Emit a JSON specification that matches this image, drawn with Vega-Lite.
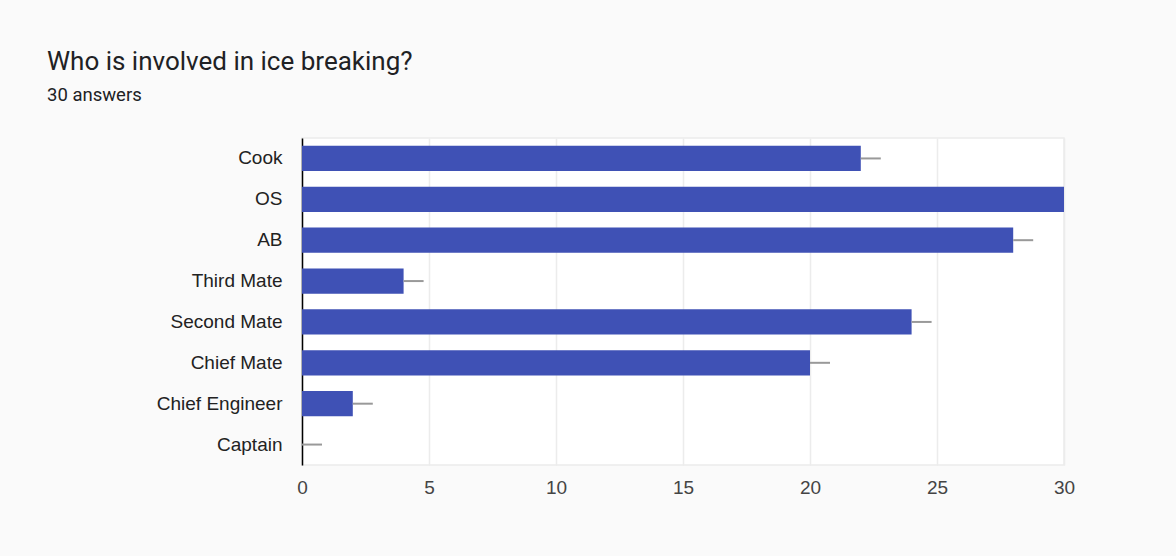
{
  "$schema": "https://vega.github.io/schema/vega-lite/v6.json",
  "autosize": "none",
  "width": 762,
  "height": 327,
  "padding": {"left": 302, "top": 138, "right": 112, "bottom": 91},
  "background": "#fafafa",
  "title": {
    "text": "Who is involved in ice breaking?",
    "subtitle": "30 answers",
    "anchor": "start",
    "frame": "group",
    "dx": -255,
    "offset": 34,
    "font": "Roboto",
    "fontSize": 26,
    "fontWeight": "normal",
    "color": "#202124",
    "subtitleFont": "Roboto",
    "subtitleFontSize": 18.5,
    "subtitleColor": "#202124",
    "subtitlePadding": 11
  },
  "config": {
    "view": {"fill": "#ffffff", "stroke": "#ececec", "strokeWidth": 1.5},
    "font": "Liberation Sans"
  },
  "data": {
    "values": [
      {"role": "Cook", "count": 22},
      {"role": "OS", "count": 30},
      {"role": "AB", "count": 28},
      {"role": "Third Mate", "count": 4},
      {"role": "Second Mate", "count": 24},
      {"role": "Chief Mate", "count": 20},
      {"role": "Chief Engineer", "count": 2},
      {"role": "Captain", "count": 0}
    ]
  },
  "encoding": {
    "y": {
      "field": "role",
      "type": "nominal",
      "sort": null,
      "title": null,
      "scale": {"paddingInner": 0.38, "paddingOuter": 0.19},
      "axis": {
        "domainColor": "#000000",
        "domainWidth": 1.5,
        "ticks": false,
        "labelPadding": 20,
        "labelFontSize": 19,
        "labelColor": "#222222",
        "labelFont": "Liberation Sans"
      }
    }
  },
  "layer": [
    {
      "mark": {"type": "bar", "color": "#3f51b5"},
      "encoding": {
        "x": {
          "field": "count",
          "type": "quantitative",
          "title": null,
          "scale": {"domain": [0, 30], "nice": false},
          "axis": {
            "values": [0, 5, 10, 15, 20, 25, 30],
            "domain": false,
            "ticks": false,
            "labelFlush": false,
            "gridColor": "#ececec",
            "gridWidth": 1.5,
            "labelPadding": 13,
            "labelFontSize": 19,
            "labelColor": "#444444",
            "labelFont": "Liberation Sans"
          }
        }
      }
    },
    {
      "mark": {"type": "rule", "color": "#999999", "strokeWidth": 2, "x2Offset": 20, "clip": true},
      "encoding": {
        "x": {"field": "count", "type": "quantitative"},
        "x2": {"field": "count"}
      }
    }
  ]
}
